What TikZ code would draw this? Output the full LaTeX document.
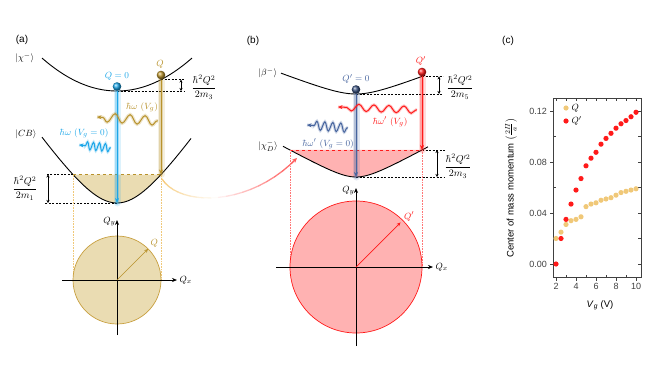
\documentclass[tikz,border=0pt]{standalone}
\usepackage{amsmath,amssymb}
\usepackage{fontspec}
\setsansfont{Liberation Sans}
\usepackage{tikz}
\usetikzlibrary{arrows.meta,calc,positioning,decorations.pathmorphing}
\definecolor{bandcyan}{HTML}{1CA6E8}
\definecolor{bandgold}{HTML}{B8922C}
\definecolor{fillgold}{HTML}{EADCB2}
\definecolor{edgegold}{HTML}{C8A040}
\definecolor{bandred}{HTML}{FF1A1A}
\definecolor{fillred}{HTML}{FFB2B2}
\definecolor{bandblue}{HTML}{46649E}
\definecolor{dotgold}{HTML}{F0C878}
\definecolor{arcgold}{HTML}{F5C060}
\definecolor{arcred}{HTML}{FF5A5A}

\begin{document}
\begin{tikzpicture}[x=1pt,y=-1pt,font=\fontsize{9.5}{11}\selectfont,
  band/.style={line width=0.9pt},
  dimline/.style={dash pattern=on 2pt off 1.5pt,line width=0.45pt},
  dimarrow/.style={{Stealth[length=3pt,width=3pt]}-{Stealth[length=3pt,width=3pt]},line width=0.6pt},
  glow/.style={line width=7pt,opacity=0.15,line cap=round},
  halo/.style={line width=3.5pt,opacity=0.3,line cap=round},
  trans/.style={line width=1pt,-{Stealth[length=5pt,width=4pt]}},
  photon/.style n args={2}{decorate,decoration={snake,amplitude=#1,segment length=#2,post length=5pt,pre length=1pt}},
  photip/.style={line width=1pt,-{Stealth[length=4.5pt,width=4pt]}},
  kaxis/.style={line width=0.7pt,-{Stealth[length=5pt,width=4pt]}},
  proj/.style={densely dotted,line width=0.6pt},
  energy/.style={font=\fontsize{10}{12}\selectfont},
  panel/.style={font=\sffamily\fontsize{10}{12}\selectfont},
  plotfont/.style={font=\sffamily\fontsize{9}{10}\selectfont},
  ptick/.style={line width=0.5pt,black!75}]
  \useasboundingbox (0,0) rectangle (667,375);

  % (a) bands
  \node[panel] (pa) at (22,40) {(a)};
  \coordinate (a0) at (117,91);
  \coordinate (aQ) at (161,79.6);
  \coordinate (c0) at (117,203);
  \coordinate (cQ) at (161,174.5);
  \coordinate (cL) at (73,174.5);
  \fill[fillgold] plot[domain=-44:44,samples=45] ({117+\x},{203-58.5*(sqrt(1+(\x/40)*(\x/40))-1)}) -- cycle;
  \draw[band] plot[domain=-75:75,samples=61] ({117+\x},{91-0.005867*\x*\x});
  \draw[band] plot[domain=-75:74,samples=61] ({117+\x},{203-58.5*(sqrt(1+(\x/40)*(\x/40))-1)});
  \draw[bandgold,dashed,line width=0.8pt] (cL) -- (cQ);
  \node[anchor=west] (chim) at (12,58) {$|\chi^-\rangle$};
  \node[anchor=west] (cb) at (12,134) {$|CB\rangle$};

  \coordinate (adr) at (181,0);
  \coordinate (adre) at (185,0);
  \draw[dimline] (aQ) -- (aQ -| adre);
  \draw[dimline] (a0) -- (a0 -| adre);
  \draw[dimarrow] (aQ -| adr) -- (a0 -| adr);
  \node[energy] (e3) at (204,87) {$\dfrac{\hbar^2Q^2}{2m_3}$};
  \coordinate (adl) at (45,0);
  \coordinate (adla) at (48,0);
  \draw[dimline] (cL) -- (cL -| adl);
  \draw[dimline] (c0) -- (c0 -| adl);
  \draw[dimarrow] (cL -| adla) -- (c0 -| adla);
  \node[energy] (e1) at (25,188) {$\dfrac{\hbar^2Q^2}{2m_1}$};

  % transitions and photons of (a)
  \draw[glow,bandcyan] (a0) -- (c0);
  \draw[halo,bandcyan] (a0) -- (c0);
  \draw[trans,bandcyan] (a0) -- (c0);
  \draw[glow,bandgold] (aQ) -- (cQ);
  \draw[halo,bandgold] (aQ) -- (cQ);
  \draw[trans,bandgold] (aQ) -- (cQ);
  \coordinate (wa1) at (158,121);
  \coordinate (wa2) at (97,117);
  \draw[photon={4.5pt}{15pt},bandgold,line width=3.5pt,opacity=0.25] (wa1) -- (wa2);
  \draw[photon={4.5pt}{15pt},bandgold,photip] (wa1) -- (wa2);
  \coordinate (wc1) at (111,148);
  \coordinate (wc2) at (79,145);
  \draw[photon={4pt}{6pt},bandcyan,line width=3pt,opacity=0.25] (wc1) -- (wc2);
  \draw[photon={4pt}{6pt},bandcyan,photip] (wc1) -- (wc2);
  \node[bandgold] (wlab) at (142,107) {$\hbar\omega\ (V_g)$};
  \node[bandcyan] (w0lab) at (84,133) {$\hbar\omega\ (V_g=0)$};
  \shade[ball color=bandcyan] (117,86.5) circle (4.3pt);
  \shade[ball color=bandgold] (161,75) circle (4.3pt);
  \node[bandcyan] (q0lab) at (117,76) {$Q=0$};
  \node[bandgold] (qlab) at (160,64) {$Q$};

  % (a) Fermi disc
  \coordinate (ka) at (117,280);
  \draw[proj,dotgold] (cL) -- (cL |- ka);
  \draw[proj,dotgold] (cQ) -- (cQ |- ka);
  \fill[fillgold] (ka) circle (44pt);
  \draw[edgegold,line width=0.7pt] (ka) circle (44pt);
  \coordinate (kal) at (62,280);
  \coordinate (kar) at (177,280);
  \coordinate (kab) at (117,335);
  \coordinate (kat) at (117,220);
  \draw[kaxis] (kal) -- (kar);
  \draw[kaxis] (kab) -- (kat);
  \node[right=-1pt of kar] (qxa) {$Q_x$};
  \node[left=-2pt of kat,yshift=-2pt] (qya) {$Q_y$};
  \coordinate (kaQ) at ($(ka)+(45:44pt)$);
  \draw[bandgold,line width=0.7pt,-{Stealth[length=4pt,width=3.5pt]}] (ka) -- (kaQ);
  \node[bandgold,above right=-2pt and -1pt of kaQ] (kaQlab) {$Q$};

  % arrow from (a) to (b)
  \coordinate (arcstart) at (162,179);
  \coordinate (arcend) at (297,158);
  \path (arcstart) .. controls (180,207) and (250,207) .. (arcend)
    \foreach \i in {0,...,20} {coordinate[pos=\i/20] (arc\i)};
  \foreach \i [evaluate=\i as \j using int(\i+1), evaluate=\i as \p using int(85-\i*9)] in {0,...,9}
    \draw[line width=1.3pt,line cap=round,arcgold!\p!white] (arc\i) -- (arc\j);
  \foreach \i [evaluate=\i as \j using int(\i+1), evaluate=\i as \p using int((\i-9)*10)] in {10,...,18}
    \draw[line width=1.3pt,line cap=round,arcred!\p!white] (arc\i) -- (arc\j);
  \draw[line width=1.3pt,arcred,-{Stealth[length=5pt,width=4.5pt]}] (arc19) -- (arc20);

  % (b) bands
  \node[panel] (pb) at (253,41) {(b)};
  \coordinate (b0) at (356,94);
  \coordinate (bQ) at (422,76.4);
  \coordinate (d0) at (356,177);
  \coordinate (dQ) at (422,150);
  \coordinate (dL) at (290,150);
  \fill[fillred] plot[domain=-66:66,samples=61] ({356+\x},{177-11.03*(sqrt(1+(\x/20)*(\x/20))-1)}) -- cycle;
  \draw[band] plot[domain=-75:69,samples=61] ({356+\x},{94-9.64*(sqrt(1+(\x/25)*(\x/25))-1)});
  \draw[band] plot[domain=-73:72,samples=61] ({356+\x},{177-11.03*(sqrt(1+(\x/20)*(\x/20))-1)});
  \draw[bandred,dashed,line width=0.8pt] (dL) -- (dQ);
  \node[anchor=west] (betam) at (255,73) {$|\beta^-\rangle$};
  \node[anchor=west] (chid) at (255,146) {$|\chi_D^-\rangle$};

  \coordinate (bdr) at (439,0);
  \coordinate (bdre) at (443,0);
  \draw[dimline] (bQ) -- (bQ -| bdre);
  \draw[dimline] (b0) -- (b0 -| bdre);
  \draw[dimarrow] (bQ -| bdr) -- (b0 -| bdr);
  \node[energy] (e5) at (460,87) {$\dfrac{\hbar^2Q'^2}{2m_5}$};
  \coordinate (ddr) at (437,0);
  \coordinate (ddre) at (445,0);
  \draw[dimline] (dQ) -- (dQ -| ddre);
  \draw[dimline] (d0) -- (d0 -| ddre);
  \draw[dimarrow] (dQ -| ddr) -- (d0 -| ddr);
  \node[energy] (e3b) at (458,166) {$\dfrac{\hbar^2Q'^2}{2m_3}$};

  % transitions and photons of (b)
  \draw[glow,bandblue] (b0) -- (d0);
  \draw[halo,bandblue] (b0) -- (d0);
  \draw[trans,bandblue] (b0) -- (d0);
  \draw[glow,bandred] (bQ) -- (dQ);
  \draw[halo,bandred] (bQ) -- (dQ);
  \draw[trans,bandred] (bQ) -- (dQ);
  \coordinate (wb1) at (417,110);
  \coordinate (wb2) at (338,107);
  \draw[photon={3.5pt}{15pt},bandred,line width=3pt,opacity=0.25] (wb1) -- (wb2);
  \draw[photon={3.5pt}{15pt},bandred,photip] (wb1) -- (wb2);
  \coordinate (wd1) at (348,128);
  \coordinate (wd2) at (307,125);
  \draw[photon={4.5pt}{8pt},bandblue,line width=3pt,opacity=0.25] (wd1) -- (wd2);
  \draw[photon={4.5pt}{8pt},bandblue,photip] (wd1) -- (wd2);
  \node[bandred] (wplab) at (390,122) {$\hbar\omega'\ (V_g)$};
  \node[bandblue] (wp0lab) at (328,144) {$\hbar\omega'\ (V_g=0)$};
  \shade[ball color=bandblue!80!black] (356,89.5) circle (4.3pt);
  \shade[ball color=bandred] (422,72) circle (4.3pt);
  \node[bandblue] (qp0lab) at (356,79) {$Q'=0$};
  \node[bandred] (qplab) at (421,61) {$Q'$};

  % (b) Fermi disc
  \coordinate (kb) at (356,267);
  \draw[proj,bandred!60] (dL) -- (dL |- kb);
  \draw[proj,bandred!60] (dQ) -- (dQ |- kb);
  \fill[fillred] (kb) circle (66pt);
  \draw[bandred,line width=0.7pt] (kb) circle (66pt);
  \coordinate (kbl) at (276,267);
  \coordinate (kbr) at (433,267);
  \coordinate (kbb) at (356,346);
  \coordinate (kbt) at (356,188);
  \draw[kaxis] (kbl) -- (kbr);
  \draw[kaxis] (kbb) -- (kbt);
  \node[right=-1pt of kbr] (qxb) {$Q_x$};
  \node[left=-2pt of kbt,yshift=-3pt] (qyb) {$Q_y$};
  \coordinate (kbQ) at ($(kb)+(45:63pt)$);
  \draw[bandred,line width=0.7pt,-{Stealth[length=4pt,width=3.5pt]}] (kb) -- (kbQ);
  \node[bandred,above right=-2pt and 0pt of kbQ] (kbQlab) {$Q'$};

  % (c) centre of mass momentum against gate voltage
  \node[panel] (pc) at (508,41) {(c)};
  \draw[line width=0.6pt,black!75] (553,98) rectangle (641,277);
  \foreach \v in {2,...,10}
    \draw[ptick] ({556+(\v-2)*10},98) -- ++(0,3);
  \foreach \v in {3,5,7,9}
    \draw[ptick] ({556+(\v-2)*10},277) -- ++(0,-2.5);
  \foreach \v in {2,4,...,10}
    \draw[ptick] ({556+(\v-2)*10},277) -- ++(0,3.5)
      node[plotfont,below=-1pt] {\v};
  \foreach \m/\lab in {0/0.00,0.04/0.04,0.08/0.08,0.12/0.12}
    \draw[ptick] (553,{264-\m*1275}) -- ++(-3.5,0)
      node[plotfont,left=-1pt] {\lab};
  \foreach \m in {0.02,0.06,0.10}
    \draw[ptick] (553,{264-\m*1275}) -- ++(2.5,0);
  \foreach \m in {0,0.02,...,0.121}
    \draw[ptick] (641,{264-\m*1275}) -- ++(-3,0);
  \foreach \v/\m in {2/0.020,2.5/0.025,3/0.031,3.5/0.034,4/0.035,4.5/0.037,5/0.045,5.5/0.047,6/0.048,6.5/0.050,7/0.051,7.5/0.052,8/0.054,8.5/0.056,9/0.057,9.5/0.058,10/0.059}
    \fill[dotgold] ({556+(\v-2)*10},{264-\m*1275}) circle (2.6pt);
  \foreach \v/\m in {2/0.000,2.5/0.020,3/0.035,3.5/0.047,4/0.058,4.5/0.067,5/0.077,5.5/0.083,6/0.0876,6.5/0.094,7/0.0985,7.5/0.1025,8/0.1065,8.5/0.110,9/0.1125,9.5/0.1155,10/0.119}
    \fill[bandred] ({556+(\v-2)*10},{264-\m*1275}) circle (2.6pt);
  \fill[dotgold] (566,108) circle (2.6pt) coordinate (lg1);
  \node[right=2pt of lg1] (lgQ) {$Q$};
  \fill[bandred] (566,121) circle (2.6pt) coordinate (lg2);
  \node[right=2pt of lg2] (lgQp) {$Q'$};
  \node[font=\sffamily\fontsize{9.5}{11}\selectfont,rotate=90] (ylab) at (511,188)
    {Center of mass momentum $\bigl(\frac{2\varPi}{a}\bigr)$};
  \node[font=\sffamily\fontsize{9.5}{11}\selectfont] (xlab) at (600,305)
    {\textit{V}\textsubscript{\textit{g}} (V)};
\end{tikzpicture}
\end{document}
